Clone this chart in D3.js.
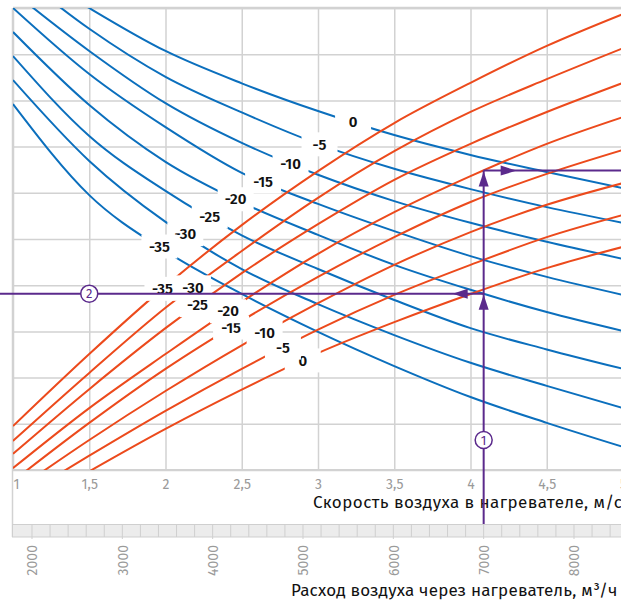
<!DOCTYPE html>
<html lang="ru">
<head>
<meta charset="UTF-8">
<title>Номограмма нагревателя</title>
<style>
  body { margin: 0; background: #fff; }
  svg { display: block; font-family: "Fira Sans", "Open Sans", sans-serif; }
</style>
</head>
<body>
<svg id="chart" width="621" height="605"></svg>
<script src="https://cdn.jsdelivr.net/npm/d3@7"></script>
<script>
var speeds = [1, 1.5, 2, 2.5, 3, 3.5, 4, 4.5, 5];
var temps = [0, -5, -10, -15, -20, -25, -30, -35];

// blue family (one row per temperature, same order as temps)
var blueCurves = [
  [11.04, 10.0, 9.07, 8.37, 7.77, 7.25, 6.82, 6.45, 6.10],
  [10.82, 9.55, 8.51, 7.74, 7.06, 6.52, 6.08, 5.69, 5.35],
  [10.35, 9.07, 7.94, 7.08, 6.39, 5.82, 5.35, 4.94, 4.57],
  [10.0, 8.57, 7.42, 6.43, 5.76, 5.17, 4.63, 4.18, 3.79],
  [9.48, 7.90, 6.67, 5.79, 5.09, 4.44, 3.90, 3.42, 3.01],
  [8.96, 7.23, 6.04, 5.08, 4.35, 3.68, 3.07, 2.61, 2.19],
  [8.44, 6.69, 5.37, 4.35, 3.59, 2.92, 2.32, 1.82, 1.34],
  [7.92, 5.95, 4.74, 3.81, 2.99, 2.25, 1.58, 1.02, 0.50]
];

// red family
var redCurves = [
  [-0.99, -0.03, 0.89, 1.74, 2.53, 3.20, 3.81, 4.37, 4.83],
  [-0.69, 0.31, 1.28, 2.19, 3.04, 3.79, 4.44, 5.04, 5.52],
  [-0.48, 0.65, 1.71, 2.70, 3.61, 4.44, 5.15, 5.74, 6.21],
  [-0.24, 1.02, 2.19, 3.23, 4.18, 5.04, 5.80, 6.41, 6.93],
  [0.04, 1.34, 2.51, 3.64, 4.68, 5.58, 6.36, 7.06, 7.64],
  [0.35, 1.75, 3.07, 4.26, 5.32, 6.28, 7.06, 7.75, 8.38],
  [0.63, 2.10, 3.51, 4.74, 5.89, 6.90, 7.75, 8.46, 9.13],
  [0.95, 2.51, 3.98, 5.30, 6.47, 7.51, 8.38, 9.18, 9.87]
];

// speed where each curve carries its label
var blueLabelAt = [3.23, 3.01, 2.82, 2.64, 2.46, 2.29, 2.13, 1.96];
var redLabelAt = [2.90, 2.77, 2.65, 2.43, 2.41, 2.21, 2.18, 1.98];

var speedTicks = [1, 1.5, 2, 2.5, 3, 3.5, 4, 4.5, 5];
var flowTicks = [2000, 3000, 4000, 5000, 6000, 7000, 8000];
var flowMinorTicks = [2000, 2200, 2400, 2600, 2800, 3000, 3200, 3400, 3600, 3800, 4000, 4200, 4400, 4600,
  4800, 5000, 5200, 5400, 5600, 5800, 6000, 6200, 6400, 6600, 6800, 7000, 7200, 7400, 7600, 7800, 8000,
  8200, 8400, 8600];
var levelTicks = [0, 1, 2, 3, 4, 5, 6, 7, 8, 9, 10];

// worked example: flow 1 -> red curve, back along blue curve 2
var exampleFlow = 7000;
var exampleTemp = -20;

var blue = '#0b6fbd', red = '#ec4a1c', purple = '#5b2a8c', grid = '#d2d2d2';

var svg = d3.select('#chart');
var x = d3.scaleLinear().domain([1, 5]).range([13, 623]);
var y = d3.scaleLinear().domain([0, 10]).range([470, 8]);
var flow = d3.scaleLinear().domain([2000, 8000]).range([32, 574]);

var plotL = 13, plotR = 621, plotT = 8, plotB = 470;

svg.append('defs').append('clipPath').attr('id', 'plot')
  .append('rect').attr('x', plotL).attr('y', plotT).attr('width', plotR - plotL).attr('height', plotB - plotT);

// grid
svg.append('g')
  .attr('transform', 'translate(' + plotL + ',0)')
  .call(d3.axisLeft(y).tickValues(levelTicks).tickSize(-(plotR - plotL)).tickFormat(''))
  .call(function (g) {
    g.select('.domain').remove();
    g.selectAll('line').attr('stroke', grid).attr('stroke-width', 1.5);
  });
svg.append('g')
  .attr('transform', 'translate(0,' + plotB + ')')
  .call(d3.axisBottom(x).tickValues(speedTicks).tickSize(-(plotB - plotT)).tickFormat(''))
  .call(function (g) {
    g.select('.domain').remove();
    g.selectAll('line').attr('stroke', grid).attr('stroke-width', 1.5);
  });
svg.append('line').attr('x1', plotL).attr('x2', plotR).attr('y1', plotT).attr('y2', plotT)
  .attr('stroke', grid).attr('stroke-width', 2.5);
svg.append('line').attr('x1', plotL).attr('x2', plotR).attr('y1', plotB).attr('y2', plotB)
  .attr('stroke', grid).attr('stroke-width', 2);
svg.append('line').attr('x1', 12.5).attr('x2', 12.5).attr('y1', plotT).attr('y2', 537)
  .attr('stroke', grid).attr('stroke-width', 1.5);

// speed labels
svg.append('g')
  .attr('transform', 'translate(0,' + plotB + ')')
  .call(d3.axisBottom(x).tickValues(speedTicks).tickSize(0).tickPadding(0)
    .tickFormat(function (d) { return String(d).replace('.', ','); }))
  .call(function (g) {
    g.select('.domain').remove();
    g.selectAll('text').attr('y', 19).attr('dy', 0).attr('fill', '#9a9a9a')
      .style('font-size', '14px').style('font-family', '"Fira Sans", "Open Sans", sans-serif');
    g.select('.tick text').attr('text-anchor', 'start').attr('x', 0);
  });
svg.append('text').attr('x', 313).attr('y', 508).attr('fill', '#111')
  .style('font-size', '17px').style('letter-spacing', '0.45px')
  .text('Скорость воздуха в нагревателе, м/с');

// flow strip
svg.append('rect').attr('x', 12.5).attr('y', 524.5).attr('width', 620).attr('height', 12.5)
  .attr('fill', '#ececec').attr('stroke', '#cfcfcf');
svg.append('g').selectAll('line').data(flowMinorTicks).join('line')
  .attr('x1', function (d) { return flow(d); }).attr('x2', function (d) { return flow(d); })
  .attr('y1', 524.5).attr('y2', function (d) { return d % 1000 === 0 ? 539 : 537; })
  .attr('stroke', '#cfcfcf');
svg.append('g')
  .attr('transform', 'translate(0,545)')
  .call(d3.axisBottom(flow).tickValues(flowTicks).tickSize(0).tickFormat(d3.format('d')))
  .call(function (g) {
    g.select('.domain').remove();
    g.selectAll('text').attr('transform', 'rotate(-90)').attr('text-anchor', 'end')
      .attr('x', 0).attr('y', 0).attr('dy', '0.35em').attr('fill', '#9a9a9a')
      .style('font-size', '14px').style('font-family', '"Fira Sans", "Open Sans", sans-serif');
  });
svg.append('text').attr('x', 291).attr('y', 596).attr('fill', '#111')
  .style('font-size', '17px').style('letter-spacing', '0.2px')
  .text('Расход воздуха через нагреватель, м³/ч');

// curves
function rows(values) {
  return values.map(function (v, i) { return [speeds[i], v]; });
}
function valueAt(values, s) {
  var i = Math.min(speeds.length - 2, Math.max(0, d3.bisectRight(speeds, s) - 1));
  var t = (s - speeds[i]) / (speeds[i + 1] - speeds[i]);
  return values[i] + t * (values[i + 1] - values[i]);
}
var line = d3.line().curve(d3.curveMonotoneX)
  .x(function (d) { return x(d[0]); }).y(function (d) { return y(d[1]); });

var curves = svg.append('g').attr('clip-path', 'url(#plot)').attr('fill', 'none').attr('stroke-width', 2);
curves.selectAll('.blue').data(blueCurves).join('path').attr('class', 'blue')
  .attr('stroke', blue).attr('d', function (d) { return line(rows(d)); });
curves.selectAll('.red').data(redCurves).join('path').attr('class', 'red')
  .attr('stroke', red).attr('d', function (d) { return line(rows(d)); });

// worked example
var exSpeed = x.invert(flow(exampleFlow));
var k = temps.indexOf(exampleTemp);
var yTop = y(valueAt(redCurves[k], exSpeed));
var yMid = y(valueAt(blueCurves[k], exSpeed));
var ex = x(exSpeed);
var ann = svg.append('g');
ann.append('line').attr('x1', ex).attr('x2', ex).attr('y1', yTop).attr('y2', 524)
  .attr('stroke', purple).attr('stroke-width', 2);
ann.append('line').attr('x1', ex).attr('x2', plotR).attr('y1', yTop).attr('y2', yTop)
  .attr('stroke', purple).attr('stroke-width', 2);
ann.append('line').attr('x1', 0).attr('x2', ex).attr('y1', yMid).attr('y2', yMid)
  .attr('stroke', purple).attr('stroke-width', 2);
function arrow(px, py, dir) {
  var pts = {
    up: [[0, 0], [-5, 15], [5, 15]],
    left: [[0, 0], [15, -5], [15, 5]],
    right: [[0, 0], [-16, -5], [-16, 5]]
  }[dir];
  ann.append('path').attr('fill', purple)
    .attr('d', 'M' + pts.map(function (p) { return (px + p[0]) + ',' + (py + p[1]); }).join('L') + 'Z');
}
arrow(ex, yTop + 1, 'up');
arrow(ex, yMid + 1, 'up');
arrow(ex - 31, yMid, 'left');
arrow(ex + 33, yTop, 'right');

// curve labels on white patches
function labels(values, at, cls) {
  var g = svg.append('g').attr('class', cls);
  temps.forEach(function (t, i) {
    var cx = x(at[i]), cy = y(valueAt(values[i], at[i]));
    var rect = g.append('rect').attr('fill', '#fff');
    var txt = g.append('text').attr('x', cx).attr('y', cy).attr('dy', '0.35em')
      .attr('text-anchor', 'middle').attr('fill', '#111')
      .style('font-size', '15px').style('font-weight', 600).text(t);
    var w = Math.max(36, txt.node().getComputedTextLength() + 12);
    rect.attr('x', cx - w / 2).attr('y', cy - 12).attr('width', w).attr('height', 24);
  });
}
labels(blueCurves, blueLabelAt, 'blue-labels');
labels(redCurves, redLabelAt, 'red-labels');

// markers 1 and 2
function marker(px, py, t) {
  ann.append('circle').attr('cx', px).attr('cy', py).attr('r', 8.5)
    .attr('fill', '#fff').attr('stroke', purple).attr('stroke-width', 1.5);
  ann.append('text').attr('x', px).attr('y', py).attr('dy', '0.35em').attr('text-anchor', 'middle')
    .attr('fill', purple).style('font-size', '13px').text(t);
  ann.raise();
}
marker(ex, 440, '1');
marker(x(1.5), yMid, '2');
</script>
</body>
</html>
